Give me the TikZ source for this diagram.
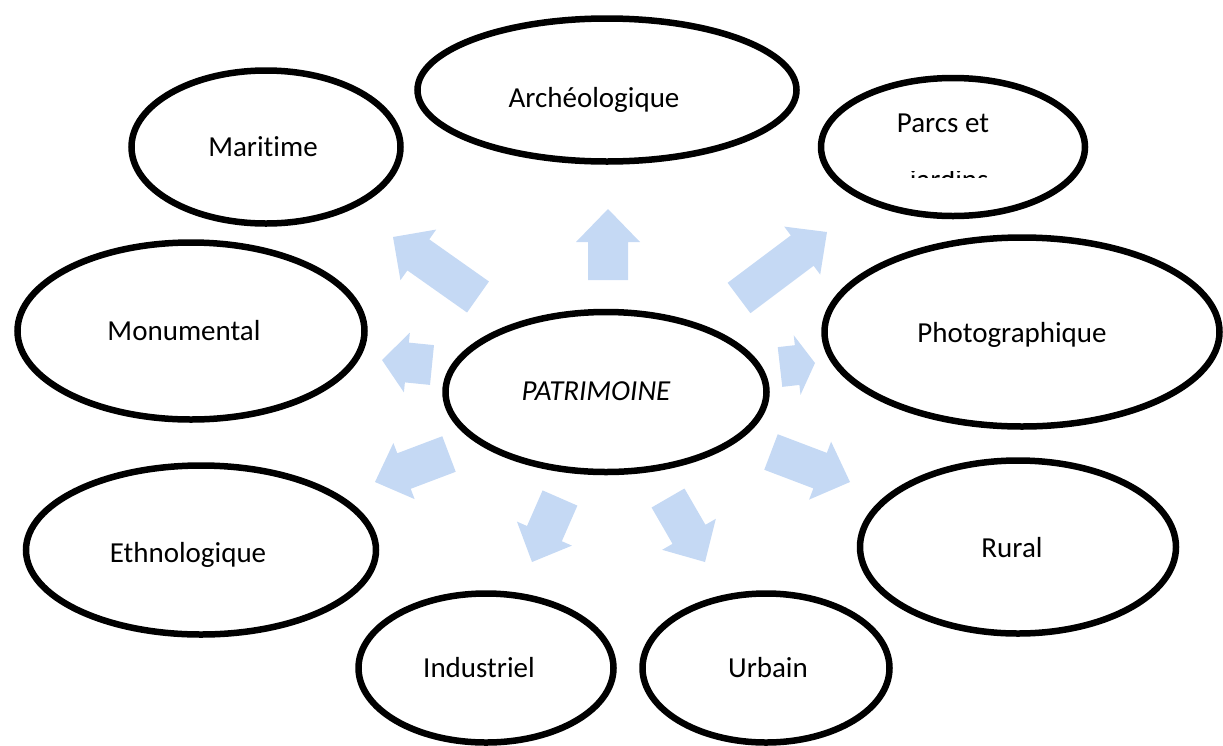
\documentclass[tikz,border=0pt]{standalone}
\usepackage{fontspec}
\setmainfont[Ligatures=NoCommon]{Carlito}
\usetikzlibrary{shapes.geometric,calc}
\definecolor{arrowblue}{RGB}{197,217,244}
\tikzset{
  bubble/.style={ellipse, draw=black, line width=6.5pt, fill=white, inner sep=0pt},
  lbl/.style={anchor=base, inner sep=0pt, font=\fontsize{29}{34}\selectfont},
  blockarrowfill/.style={fill=arrowblue, draw=none},
}
% #1 tail, #2 tip, #3 half shaft width, #4 half head width, #5 head length
\newcommand\blockarrow[5]{%
  \fill[blockarrowfill]
    ($(#1)!#3!90:(#2)$)
    -- ($(#2)!#5!(#1)!#3!90:(#2)$)
    -- ($(#2)!#5!(#1)!#4!90:(#2)$)
    -- (#2)
    -- ($(#2)!#5!(#1)!#4!-90:(#2)$)
    -- ($(#2)!#5!(#1)!#3!-90:(#2)$)
    -- ($(#1)!#3!-90:(#2)$) -- cycle;}
\begin{document}
\begin{tikzpicture}[x=1pt,y=-1pt]
\useasboundingbox (0,0) rectangle (1223,745);

% arrow end points
\coordinate (upT) at (608,280);  \coordinate (upH) at (608,209);
\coordinate (ulT) at (478,297);  \coordinate (ulH) at (393,237);
\coordinate (urT) at (739,298);  \coordinate (urH) at (827,232);
\coordinate (lT)  at (432,365);  \coordinate (lH)  at (382,360);
\coordinate (rT)  at (780,367);  \coordinate (rH)  at (815,363);
\coordinate (llT) at (449,454);  \coordinate (llH) at (375,482);
\coordinate (dlT) at (560,498);  \coordinate (dlH) at (532,562);
\coordinate (drT) at (668,498);  \coordinate (drH) at (705,562);
\coordinate (lrT) at (771,452);  \coordinate (lrH) at (850,482);

\blockarrow{upT}{upH}{20pt}{32pt}{33pt}
\blockarrow{ulT}{ulH}{19pt}{31pt}{31pt}
\blockarrow{urT}{urH}{19pt}{30pt}{31pt}
\blockarrow{lT}{lH}{20pt}{30pt}{25pt}
\blockarrow{rT}{rH}{20pt}{30pt}{18pt}
\blockarrow{llT}{llH}{19pt}{30pt}{31pt}
\blockarrow{dlT}{dlH}{19pt}{30pt}{31pt}
\blockarrow{drT}{drH}{19pt}{31pt}{32pt}
\blockarrow{lrT}{lrH}{19pt}{31pt}{32pt}

% ellipses
\node[bubble, minimum width=269pt, minimum height=153pt] (mar) at (266,147) {};
\node[bubble, minimum width=379pt, minimum height=143pt] (arc) at (607,90) {};
\node[bubble, minimum width=264pt, minimum height=138pt] (par) at (953,147) {};
\node[bubble, minimum width=395pt, minimum height=189pt] (pho) at (1022,332) {};
\node[bubble, minimum width=347pt, minimum height=177pt] (mon) at (191,331) {};
\node[bubble, minimum width=321pt, minimum height=160pt] (pat) at (606,392) {};
\node[bubble, minimum width=350pt, minimum height=169pt] (eth) at (201,550) {};
\node[bubble, minimum width=255pt, minimum height=149pt] (ind) at (486,668) {};
\node[bubble, minimum width=247pt, minimum height=149pt] (urb) at (766,668) {};
\node[bubble, minimum width=316pt, minimum height=173pt] (rur) at (1018,547) {};

% labels
\node[lbl] (tmar) at (263,156) {Maritime};
\node[lbl] (tarc) at (594,107) {Archéologique};
\node[lbl] (tpar) at (943,132) {Parcs et};
\begin{scope}
  \clip (900,171) rectangle (1000,177);
  \node[lbl] (tjar) at (949,189) {jardins};
\end{scope}
\node[lbl] (tpho) at (1012,342) {Photographique};
\node[lbl] (tmon) at (184,340) {Monumental};
\node[lbl] (tpat) at (596,400) {\itshape PATRIMOINE};
\node[lbl] (teth) at (188,562) {Ethnologique};
\node[lbl] (tind) at (479,677) {Industriel};
\node[lbl] (turb) at (768,677) {Urbain};
\node[lbl] (trur) at (1012,557) {Rural};
\end{tikzpicture}
\end{document}
